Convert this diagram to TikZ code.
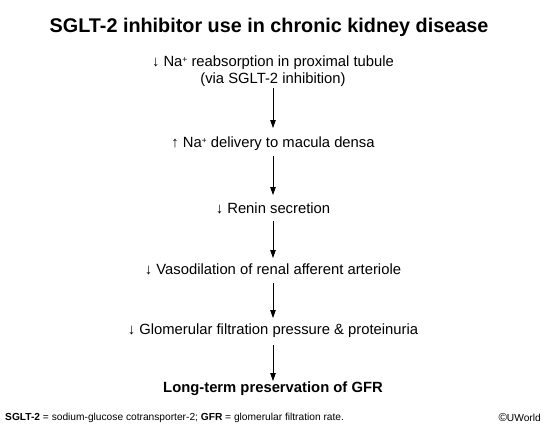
\documentclass[tikz,border=0pt]{standalone}
\usepackage{fontspec}
\setmainfont{Liberation Sans}
\usetikzlibrary{arrows.meta}
\newcommand{\plussup}{\raisebox{0.55ex}{\fontsize{8.5}{8.5}\selectfont +}}
\begin{document}
\begin{tikzpicture}[x=1pt,y=-1pt,
  stepnode/.style={font=\fontsize{14.8}{16.5}\selectfont, align=center, inner sep=0pt},
  flow/.style={-{Triangle[length=8pt,width=5.5pt]}, line width=0.8pt, black}]
\useasboundingbox (0,0) rectangle (546,432);
\node[font=\bfseries\fontsize{19.8}{22}\selectfont, inner sep=0pt] (title) at (269,27) {SGLT-2 inhibitor use in chronic kidney disease};
\node[stepnode] (n1) at (273,71) {↓ Na\plussup{} reabsorption in proximal tubule\\(via SGLT-2 inhibition)};
\node[stepnode] (n2) at (273,144) {↑ Na\plussup{} delivery to macula densa};
\node[stepnode] (n3) at (273,208) {↓ Renin secretion};
\node[stepnode] (n4) at (273,269) {↓ Vasodilation of renal afferent arteriole};
\node[stepnode] (n5) at (273,331) {↓ Glomerular filtration pressure \& proteinuria};
\node[stepnode, font=\bfseries\fontsize{14.8}{16.5}\selectfont] (n6) at (273,389) {Long-term preservation of GFR};
\coordinate (s1) at (273,88);  \coordinate (e1) at (273,128);
\coordinate (s2) at (273,156); \coordinate (e2) at (273,195);
\coordinate (s3) at (273,221); \coordinate (e3) at (273,258);
\coordinate (s4) at (273,283); \coordinate (e4) at (273,318);
\coordinate (s5) at (273,345); \coordinate (e5) at (273,381);
\draw[flow] (s1) -- (e1);
\draw[flow] (s2) -- (e2);
\draw[flow] (s3) -- (e3);
\draw[flow] (s4) -- (e4);
\draw[flow] (s5) -- (e5);
\node[anchor=west, font=\fontsize{10.2}{12}\selectfont, inner sep=0pt] (foot) at (5,418) {\textbf{SGLT-2} = sodium-glucose cotransporter-2; \textbf{GFR} = glomerular filtration rate.};
\node[anchor=east, font=\fontsize{10.2}{12}\selectfont, inner sep=0pt] (copy) at (541,418) {{\fontsize{11.5}{12}\selectfont ©}UWorld};
\end{tikzpicture}
\end{document}
